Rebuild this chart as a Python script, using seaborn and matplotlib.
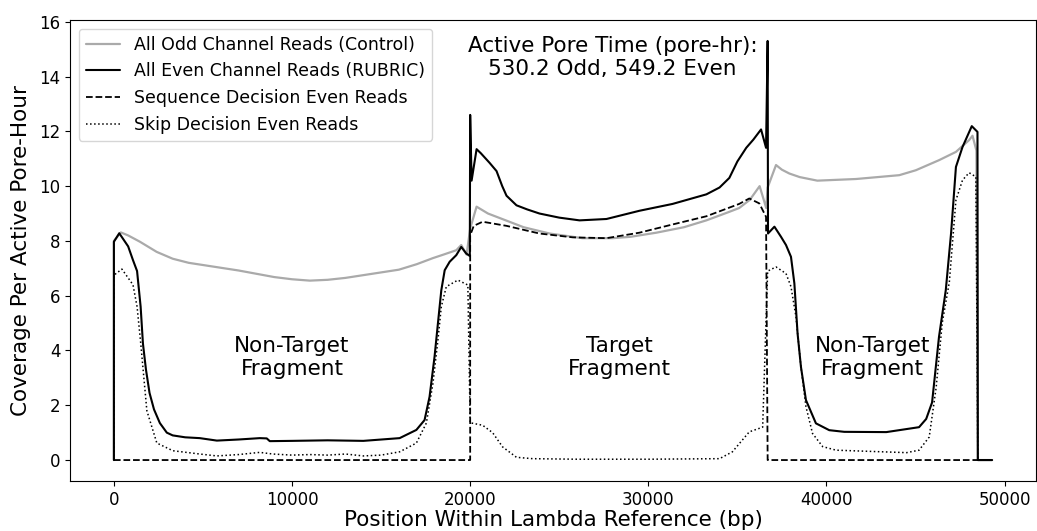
import matplotlib
matplotlib.use("Agg")
import matplotlib.pyplot as plt
import seaborn as sns

# coverage per active pore-hour along the lambda reference
odd_x = [0, 0, 390, 800, 1460, 2400, 3300, 4200, 5000, 6000, 7000, 8000, 9000, 10000,
         11000, 12000, 13000, 14000, 15000, 16000, 17000, 17900, 18500, 19220, 19500, 19800,
         20000, 20360, 21000, 22000, 23000, 24460, 26300, 28000, 29000, 30450, 32000, 33260,
         34500, 35100, 35700, 36250, 36620, 36700, 37170, 37500, 37920, 38500, 39490, 41660,
         44090, 45020, 46330, 47270, 48010, 48200, 48420, 48500, 49300]
odd_y = [0, 8.0, 8.31, 8.2, 7.97, 7.6, 7.35, 7.2, 7.12, 7.02, 6.92, 6.8, 6.68, 6.6,
         6.55, 6.58, 6.65, 6.75, 6.85, 6.95, 7.15, 7.37, 7.5, 7.66, 7.85, 7.5,
         8.45, 9.25, 9.0, 8.75, 8.5, 8.27, 8.1, 8.1, 8.15, 8.3, 8.5, 8.75,
         9.05, 9.2, 9.5, 10.0, 9.2, 9.95, 10.77, 10.6, 10.46, 10.33, 10.2, 10.26,
         10.4, 10.58, 10.95, 11.25, 11.68, 11.84, 11.3, 0, 0]

even_x = [0, 0, 300, 800, 1070, 1300, 1500, 1630, 1800, 2000, 2250, 2580, 2970, 3300,
          4000, 4820, 5780, 7000, 8190, 8580, 8750, 10000, 12000, 14000, 16040, 16980, 17440,
          17720, 18000, 18190, 18380, 18570, 18850, 19220, 19500, 19780, 19980, 20000, 20080,
          20360, 20600, 21090, 21480, 21800, 22040, 22600, 23200, 23890, 25000, 26140, 27650,
          29500, 31360, 33260, 34000, 34550, 35000, 35500, 35900, 36330, 36610, 36700, 36720,
          37080, 37450, 37730, 38010, 38200, 38380, 38570, 38850, 39410, 40160, 41000, 43360,
          45200, 45600, 45930, 46320, 46700, 47000, 47270, 47640, 48160, 48480, 48500, 49300]
even_y = [0, 7.97, 8.28, 7.8, 7.3, 6.9, 5.6, 4.25, 3.3, 2.45, 1.85, 1.35, 1.0, 0.9,
          0.83, 0.8, 0.71, 0.75, 0.8, 0.79, 0.69, 0.7, 0.72, 0.7, 0.8, 1.1, 1.46,
          2.31, 3.77, 4.99, 6.2, 6.93, 7.24, 7.48, 7.78, 7.54, 7.45, 12.6, 10.2,
          11.35, 11.2, 10.85, 10.55, 10.0, 9.65, 9.3, 9.15, 9.0, 8.85, 8.75, 8.8,
          9.1, 9.35, 9.7, 9.95, 10.3, 10.9, 11.4, 11.7, 12.07, 11.4, 15.3, 8.27,
          8.52, 8.15, 7.85, 7.42, 6.45, 4.62, 3.4, 2.19, 1.34, 1.09, 1.03, 1.02,
          1.2, 1.5, 2.1, 4.5, 6.2, 8.3, 10.7, 11.43, 12.19, 11.98, 0, 0]

seq_x = [0, 20000, 20000, 20200, 20700, 22040, 23890, 25760, 27650, 29500, 31360, 33260,
         35100, 35670, 36230, 36610, 36700, 49300]
seq_y = [0, 0, 8.2, 8.55, 8.7, 8.55, 8.27, 8.13, 8.1, 8.3, 8.6, 8.9,
         9.35, 9.55, 9.37, 8.88, 0, 0]

skip_x = [0, 0, 450, 1070, 1300, 1500, 1850, 2410, 3310, 4820, 5780, 7000, 8190, 8920,
          10000, 11000, 12000, 13000, 14000, 15000, 16040, 16980, 17540, 17910, 18190, 18380,
          18660, 19310, 19870, 20000, 20080, 20700, 21260, 21820, 22600, 23500, 26000, 30000,
          34000, 34720, 35110, 35670, 36420, 36700, 36800, 37170, 37730, 38010, 38290, 38570,
          38850, 39220, 39790, 40540, 44500, 45200, 45770, 46160, 46500, 46900, 47270, 47640,
          48010, 48390, 48500, 49300]
skip_y = [0, 6.75, 6.97, 6.4, 5.6, 4.3, 1.8, 0.62, 0.34, 0.22, 0.15, 0.2, 0.28, 0.22,
          0.18, 0.2, 0.18, 0.22, 0.15, 0.18, 0.3, 0.62, 1.35, 2.8, 4.38, 5.6,
          6.33, 6.57, 6.39, 1.35, 1.35, 1.27, 1.0, 0.48, 0.1, 0.05, 0.03, 0.03,
          0.05, 0.3, 0.6, 1.03, 1.2, 6.9, 6.93, 7.05, 6.81, 6.33, 5.23, 3.4,
          1.95, 0.97, 0.49, 0.36, 0.27, 0.36, 0.84, 2.65, 5.0, 6.5, 9.49, 10.22,
          10.49, 10.34, 0, 0]

series_labels = ["All Odd Channel Reads (Control)", "All Even Channel Reads (RUBRIC)",
                 "Sequence Decision Even Reads", "Skip Decision Even Reads"]

fragment_labels = ["Non-Target\nFragment", "Target\nFragment", "Non-Target\nFragment"]
fragment_mid = [10000, 28350, 42600]
pore_time_text = "Active Pore Time (pore-hr):\n530.2 Odd, 549.2 Even"

sns.set_style("ticks", {"axes.edgecolor": "black", "text.color": "black",
                        "xtick.color": "black", "ytick.color": "black",
                        "axes.labelcolor": "black",
                        "xtick.major.size": 3.5, "ytick.major.size": 3.5})

fig = plt.figure(figsize=(10.37, 5.31), dpi=100)
ax = fig.add_axes([70 / 1037, 50 / 531, 966 / 1037, 461 / 531])

sns.lineplot(x=odd_x, y=odd_y, color="#aaaaaa", lw=1.6, estimator=None, sort=False,
             label=series_labels[0], ax=ax)
sns.lineplot(x=even_x, y=even_y, color="black", lw=1.5, estimator=None, sort=False,
             label=series_labels[1], ax=ax)
sns.lineplot(x=seq_x, y=seq_y, color="black", lw=1.3, ls="--", estimator=None, sort=False,
             label=series_labels[2], ax=ax)
sns.lineplot(x=skip_x, y=skip_y, color="black", lw=1.1, ls=":", estimator=None, sort=False,
             label=series_labels[3], ax=ax)

for mid, txt in zip(fragment_mid, fragment_labels):
    ax.text(mid, 3.75, txt, ha="center", va="center", fontsize=15.5)
ax.text(28000, 14.7, pore_time_text, ha="center", va="center", fontsize=15.5)

ax.set_xticks([0, 10000, 20000, 30000, 40000, 50000])
ax.set_yticks(range(0, 17, 2))
ax.tick_params(labelsize=12)
ax.set_xlabel("Position Within Lambda Reference (bp)", fontsize=15.5, labelpad=1)
ax.set_ylabel("Coverage Per Active Pore-Hour", fontsize=15.5, labelpad=6)
ax.legend(loc="upper left", fontsize=12.5)

fig.savefig("out.png", dpi=100)
plt.close(fig)
